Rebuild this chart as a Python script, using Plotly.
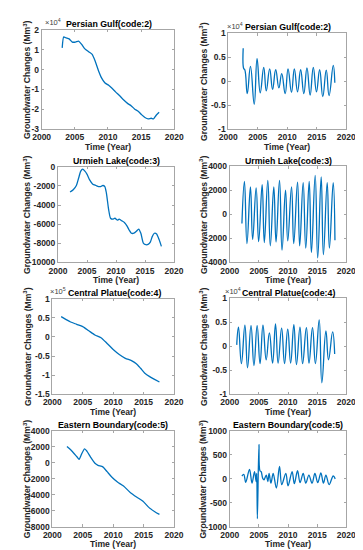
import plotly.graph_objects as go

W, H = 363, 550
BLUE = '#0072BD'
FONT = 'Liberation Sans, Arial, Helvetica, sans-serif'
AXC = '#a6a6a6'
TXT = '#262626'

# ---------------- data (Mm^3) ----------------
pg_trend_years = [2003.1, 2003.33, 2003.67, 2004.14, 2004.62, 2005.1, 2005.57, 2006.05, 2006.52, 2007.14,
                  2007.62, 2008.1, 2008.57, 2009.05, 2009.52, 2010.1, 2010.57, 2011.14, 2011.76, 2012.38,
                  2012.95, 2013.52, 2014.0, 2014.6, 2015.1, 2015.57, 2016.05, 2016.52, 2016.86, 2017.24, 2017.71]
pg_trend_vals = [11000, 16500, 16000, 15500, 13900, 13900, 14400, 12700, 10500, 8900,
                 7700, 4000, -500, -4300, -6600, -7900, -9300, -11200, -13200, -15300,
                 -17000, -18300, -19800, -21100, -22800, -24100, -24800, -24500, -24800, -23100, -21500]

pg_seas_years = [2002.52, 2002.62, 2002.79, 2003.21, 2003.75, 2004.39, 2004.87, 2005.41, 2006.0, 2006.43,
                 2007.01, 2007.5, 2008.03, 2008.57, 2009.05, 2009.64, 2010.12, 2010.71, 2011.19, 2011.73,
                 2012.26, 2012.8, 2013.33, 2013.87, 2014.4, 2014.94, 2015.48, 2016.01, 2016.6, 2017.08,
                 2017.78, 2018.05]
pg_seas_vals = [6900, 2600, 2400, -2600, 3100, -4800, 4700, -2400, 2900, -2000,
                2600, -1700, 2400, -1400, 1600, -2600, 2600, -2300, 2600, -2200,
                2400, -2600, 2800, -2900, 2900, -2200, 2400, -3200, 2300, -3000,
                3300, -300]

ul_trend_years = [2002.07, 2002.62, 2003.16, 2003.54, 2003.92, 2004.25, 2004.63, 2005.01, 2005.45, 2005.99,
                  2006.54, 2006.98, 2007.36, 2007.74, 2008.07, 2008.34, 2008.72, 2009.05, 2009.43, 2009.81,
                  2010.25, 2010.52, 2011.01, 2011.44, 2011.88, 2012.26, 2012.64, 2013.08, 2013.51, 2013.9,
                  2014.28, 2014.71, 2015.15, 2015.53, 2015.91, 2016.24, 2016.62, 2017.0, 2017.44, 2017.82]
ul_trend_vals = [-2640, -2400, -1950, -1200, -450, -240, -450, -790, -1370, -1820,
                 -1950, -2060, -2060, -1950, -2060, -2740, -4450, -5380, -5480, -5380,
                 -5580, -5480, -5650, -5820, -6170, -6610, -6950, -6950, -6750, -6510,
                 -6950, -7980, -8150, -8120, -7880, -7300, -6950, -7020, -7640, -8320]

ul_seas_years = [2002.09, 2002.52, 2002.95, 2003.55, 2003.93, 2004.53, 2004.96, 2005.56, 2005.93, 2006.53,
                 2006.96, 2007.56, 2007.94, 2008.54, 2008.97, 2009.57, 2009.95, 2010.6, 2010.98, 2011.63,
                 2012.0, 2012.6, 2013.04, 2013.63, 2014.01, 2014.66, 2015.09, 2015.69, 2016.07, 2016.72,
                 2017.1, 2017.75, 2018.05]
ul_seas_vals = [-760, 2760, -2430, 2300, -2080, 2210, -2270, 2490, -2350, 2840,
                -2620, 2300, -2300, 2840, -2980, 2020, -2210, 2300, -2430, 2700,
                -2620, 2650, -2810, 2760, -3170, 3250, -3630, 3120, -3360, 2650,
                -2810, 2650, -2160]

cp_trend_years = [2001.45, 2002.2, 2003.0, 2004.0, 2005.0, 2006.0, 2007.0, 2008.0, 2009.0, 2010.0,
                  2011.0, 2012.0, 2013.0, 2013.8, 2014.5, 2015.2, 2016.0, 2016.8, 2017.6]
cp_trend_vals = [53000, 46000, 39000, 33000, 27000, 16000, 5000, -2000, -17000, -33000,
                 -46000, -56000, -62000, -70000, -82000, -95000, -104000, -111000, -118000]

cp_seas_years = [2001.2, 2001.5, 2002.0, 2002.6, 2003.05, 2003.65, 2004.15, 2004.7, 2005.2, 2005.7,
                 2006.25, 2006.8, 2007.35, 2007.85, 2008.3, 2008.9, 2009.4, 2009.95, 2010.45, 2011.0,
                 2011.45, 2012.05, 2012.5, 2013.15, 2013.6, 2014.2, 2014.7, 2015.35, 2015.8, 2016.5,
                 2016.95, 2017.65, 2018.0]
cp_seas_vals = [300, 4000, -3600, 4400, -4500, 4300, -4000, 4300, -3600, 4400,
                -2800, 2800, -3500, 4700, -3500, 3800, -3600, 3600, -3500, 4500,
                -3800, 4000, -3600, 3900, -3500, 3900, -3600, 5500, -7600, 3200,
                -2800, 3000, -1600]

eb_trend_years = [2002.4, 2003.2, 2004.0, 2004.4, 2004.8, 2005.3, 2005.7, 2006.3, 2007.0, 2007.5,
                  2008.3, 2009.0, 2009.8, 2010.7, 2011.7, 2012.8, 2013.9, 2014.9, 2015.9, 2016.9, 2017.6]
eb_trend_vals = [2040, 1500, 800, 450, 1100, 1750, 1450, 700, -50, -300,
                 -500, -1100, -1800, -2400, -2900, -3700, -4300, -4800, -5600, -6150, -6450]

eb_seas_years = [2002.09, 2002.41, 2002.74, 2003.39, 2003.82, 2004.25, 2004.53, 2004.63, 2004.74, 2005.01,
                 2005.18, 2005.39, 2005.66, 2005.88, 2006.26, 2006.53, 2006.75, 2007.07, 2007.45, 2008.0,
                 2008.54, 2008.92, 2009.62, 2010.0, 2010.7, 2011.08, 2011.63, 2012.06, 2012.6, 2013.04,
                 2013.58, 2014.12, 2014.61, 2015.1, 2015.64, 2016.07, 2016.5, 2017.05, 2017.75, 2018.1]
eb_seas_vals = [60, 95, -75, 200, -90, 150, -55, 115, -830, 720,
                170, 150, 10, -20, 80, -55, 115, -90, 115, -190,
                260, -120, 115, -145, 150, -100, 170, -80, 115, -90,
                80, -90, 115, -80, 125, -90, 80, -120, 60, 0]

# tick labels
x_ticks = [2000, 2005, 2010, 2015, 2020]
x_labels = ['2000', '2005', '2010', '2015', '2020']
pg_trend_ticks = [-3, -2, -1, 0, 1, 2]
pg_trend_labels = ['-3', '-2', '-1', '0', '1', '2']
pm1_ticks = [-1, -0.5, 0, 0.5, 1]
pm1_labels = ['-1', '-0.5', '0', '0.5', '1']
ul_trend_ticks = [-10000, -8000, -6000, -4000, -2000, 0]
ul_trend_labels = ['-10000', '-8000', '-6000', '-4000', '-2000', '0']
ul_seas_ticks = [-4000, -2000, 0, 2000, 4000]
ul_seas_labels = ['-4000', '-2000', '0', '2000', '4000']
cp_trend_ticks = [-1.5, -1, -0.5, 0, 0.5, 1]
cp_trend_labels = ['-1.5', '-1', '-0.5', '0', '0.5', '1']
eb_trend_ticks = [-8000, -6000, -4000, -2000, 0, 2000, 4000]
eb_trend_labels = ['-8000', '-6000', '-4000', '-2000', '0', '2000', '4000']
eb_seas_ticks = [-1000, -500, 0, 500, 1000]
eb_seas_labels = ['-1000', '-500', '0', '500', '1000']

panels = [
    dict(x=pg_trend_years, y=pg_trend_vals, exp=4, ex=27, title='Persian Gulf(code:2)',
         tv=pg_trend_ticks, tt=pg_trend_labels, box=(26, 166, 17.3, 118.3), smooth=0.6),
    dict(x=pg_seas_years, y=pg_seas_vals, exp=4, ex=219, title='Persian Gulf(code:2)',
         tv=pm1_ticks, tt=pm1_labels, box=(223, 347.5, 20.7, 118.3), smooth=1.3),
    dict(x=ul_trend_years, y=ul_trend_vals, exp=0, ex=0, title='Urmieh Lake(code:3)',
         tv=ul_trend_ticks, tt=ul_trend_labels, box=(43.3, 165.7, 156.7, 254), smooth=0.6),
    dict(x=ul_seas_years, y=ul_seas_vals, exp=0, ex=0, title='Urmieh Lake(code:3)',
         tv=ul_seas_ticks, tt=ul_seas_labels, box=(224.5, 347.5, 156.3, 254), smooth=1.3),
    dict(x=cp_trend_years, y=cp_trend_vals, exp=5, ex=33, title='Central Platue(code:4)',
         tv=cp_trend_ticks, tt=cp_trend_labels, box=(37.3, 165.7, 291, 388.3), smooth=0.6),
    dict(x=cp_seas_years, y=cp_seas_vals, exp=4, ex=217, title='Central Platue(code:4)',
         tv=pm1_ticks, tt=pm1_labels, box=(224.5, 347.5, 290.7, 388.3), smooth=1.3),
    dict(x=eb_trend_years, y=eb_trend_vals, exp=0, ex=0, title='Eastern Boundary(code:5)',
         tv=eb_trend_ticks, tt=eb_trend_labels, box=(37.3, 165.7, 425.7, 523.3), smooth=0.6),
    dict(x=eb_seas_years, y=eb_seas_vals, exp=0, ex=0, title='Eastern Boundary(code:5)',
         tv=eb_seas_ticks, tt=eb_seas_labels, box=(224.5, 347.5, 425.7, 523.3), smooth=1.0),
]

def fx(p):
    return p / W

def fy(p):
    return 1 - p / H

fig = go.Figure()
annotations = []
layout = {}
tickfont = dict(family=FONT, size=8.5, color=TXT, weight='bold')

for i, p in enumerate(panels):
    n = i + 1
    xa = 'x' if n == 1 else f'x{n}'
    ya = 'y' if n == 1 else f'y{n}'
    scale = 10 ** p['exp']
    yv = [v / scale for v in p['y']]
    fig.add_trace(go.Scatter(x=p['x'], y=yv, mode='lines', xaxis=xa, yaxis=ya,
                             line=dict(color=BLUE, width=1.3, shape='spline', smoothing=p['smooth']),
                             showlegend=False, hoverinfo='skip'))
    x0, x1, y0, y1 = p['box']
    common = dict(showline=True, linecolor=AXC, linewidth=1, mirror='ticks', ticks='inside',
                  ticklen=2.5, tickcolor=AXC, showgrid=False, zeroline=False, tickfont=tickfont)
    layout['xaxis' if n == 1 else f'xaxis{n}'] = dict(
        domain=[fx(x0), fx(x1)], range=[2000, 2020], tickvals=x_ticks, ticktext=x_labels,
        anchor=ya, **common)
    layout['yaxis' if n == 1 else f'yaxis{n}'] = dict(
        domain=[fy(y1), fy(y0)], range=[p['tv'][0], p['tv'][-1]], tickvals=p['tv'],
        ticktext=p['tt'], anchor=xa, **common)
    cx = (x0 + x1) / 2
    tcx = cx + 1 if p['exp'] else cx
    annotations.append(dict(text=p['title'], x=fx(tcx), y=fy(y0 - 6), xref='paper', yref='paper',
                            xanchor='center', yanchor='middle', showarrow=False,
                            font=dict(family=FONT, size=8.8, color='black', weight='bold')))
    annotations.append(dict(text='Time (Year)', x=fx(cx), y=fy(y1 + 18), xref='paper', yref='paper',
                            xanchor='center', yanchor='middle', showarrow=False,
                            font=dict(family=FONT, size=8.6, color=TXT, weight='bold')))
    ylx = 11 if x0 < 180 else 197
    annotations.append(dict(text='Groundwater Changes (Mm<sup>3</sup>)', x=fx(ylx), y=fy((y0 + y1) / 2),
                            xref='paper', yref='paper', xanchor='center', yanchor='middle',
                            textangle=-90, showarrow=False,
                            font=dict(family=FONT, size=8.6, color=TXT, weight='bold')))
    if p['exp']:
        annotations.append(dict(text=f"×10<sup>{p['exp']}</sup>", x=fx(p['ex']), y=fy(y0 - 0.5),
                                xref='paper', yref='paper', xanchor='left', yanchor='bottom',
                                showarrow=False, font=dict(family=FONT, size=7.5, color='#404040')))

fig.update_layout(width=W, height=H, margin=dict(l=0, r=0, t=0, b=0),
                  paper_bgcolor='white', plot_bgcolor='white', annotations=annotations, **layout)
fig.write_html('out.html')
